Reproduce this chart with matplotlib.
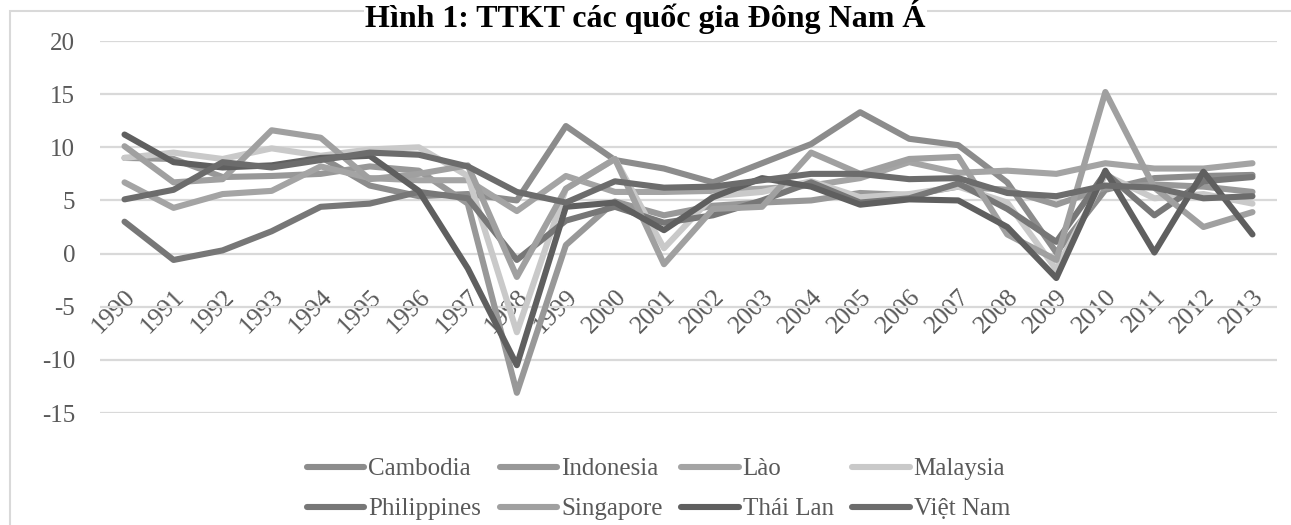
import numpy as np
import matplotlib
matplotlib.use('Agg')
import matplotlib.pyplot as plt
from matplotlib.lines import Line2D
from matplotlib.patches import Rectangle

plt.rcParams['font.family'] = ['Liberation Serif', 'DejaVu Serif']
plt.rcParams['axes.unicode_minus'] = False

years = [str(y) for y in range(1990, 2014)]
nan = np.nan

# tăng trưởng GDP (%)
cambodia = [nan, nan, nan, nan, 9.1, 6.4, 5.4, 5.6, 5.0, 12.0, 8.8, 8.0,
            6.7, 8.5, 10.3, 13.3, 10.8, 10.2, 6.7, 0.1, 6.0, 7.1, 7.3, 7.4]
indonesia = [9.0, 8.9, 7.2, 7.3, 7.5, 8.2, 7.8, 4.7, -13.1, 0.8, 4.9, 3.6,
             4.5, 4.8, 5.0, 5.7, 5.5, 6.3, 6.0, 4.6, 6.2, 6.5, 6.3, 5.8]
lao = [6.7, 4.3, 5.6, 5.9, 8.2, 7.1, 6.9, 6.9, 4.0, 7.3, 5.8, 5.8,
       5.9, 6.1, 6.4, 7.1, 8.6, 7.6, 7.8, 7.5, 8.5, 8.0, 8.0, 8.5]
malaysia = [9.0, 9.5, 8.9, 9.9, 9.2, 9.8, 10.0, 7.3, -7.4, 6.1, 8.9, 0.5,
            5.4, 5.8, 6.8, 5.3, 5.6, 6.3, 4.8, -1.5, 7.4, 5.2, 5.6, 4.7]
philippines = [3.0, -0.6, 0.3, 2.1, 4.4, 4.7, 5.8, 5.2, -0.6, 3.1, 4.4, 2.9,
               3.6, 5.0, 6.7, 4.8, 5.2, 6.6, 4.2, 1.1, 7.6, 3.6, 6.8, 7.2]
singapore = [10.1, 6.7, 7.0, 11.6, 10.9, 7.0, 7.5, 8.3, -2.2, 6.1, 8.9, -1.0,
             4.2, 4.4, 9.5, 7.5, 8.9, 9.1, 1.8, -0.6, 15.2, 6.2, 2.5, 3.9]
thailand = [11.2, 8.6, 8.1, 8.3, 9.0, 9.2, 5.9, -1.4, -10.5, 4.4, 4.8, 2.2,
            5.3, 7.1, 6.3, 4.6, 5.1, 5.0, 2.5, -2.3, 7.8, 0.1, 7.7, 1.8]
vietnam = [5.1, 6.0, 8.6, 8.1, 8.8, 9.5, 9.3, 8.2, 5.8, 4.8, 6.8, 6.2,
           6.3, 6.9, 7.5, 7.5, 7.0, 7.1, 5.7, 5.4, 6.4, 6.2, 5.2, 5.4]

names = ['Cambodia', 'Indonesia', 'Lào', 'Malaysia',
         'Philippines', 'Singapore', 'Thái Lan', 'Việt Nam']
series = [cambodia, indonesia, lao, malaysia, philippines, singapore, thailand, vietnam]
colors = ['#8c8c8c', '#989898', '#a4a4a4', '#c9c9c9',
          '#777777', '#a0a0a0', '#5f5f5f', '#6c6c6c']

fig = plt.figure(figsize=(12.91, 5.25), dpi=100)
ax = fig.add_axes([100/1291, 1 - 413/525, 1177/1291, 372/525])

x = np.arange(len(years))
for vals, c in zip(series, colors):
    ax.plot(x, vals, color=c, lw=4.4, solid_capstyle='round', solid_joinstyle='round', zorder=3)

ax.set_xlim(-0.5, len(years) - 0.5)
ax.set_ylim(-15, 20)
ax.set_yticks(range(-15, 21, 5))
ax.yaxis.grid(True, color='#d9d9d9', lw=1.6, zorder=0)
ax.set_axisbelow(True)
for s in ['top', 'right', 'left']:
    ax.spines[s].set_visible(False)
ax.spines['bottom'].set_position(('data', 0))
ax.spines['bottom'].set_visible(False)

ax.set_xticks(x)
ax.set_xticklabels(years, rotation=45, ha='right', va='top', rotation_mode='anchor')
ax.tick_params(axis='x', length=0, pad=23, labelsize=18.5, labelcolor='#595959')
ax.tick_params(axis='y', length=0, pad=18, labelsize=18, labelcolor='#595959')

# khung viền
fig.patches.append(Rectangle((10/1291, -0.2), 1.2, (525 - 11)/525 + 0.2,
                             transform=fig.transFigure, fill=False,
                             edgecolor='#d9d9d9', lw=1.5))

fig.text(0.5, 1 - 27/525, 'Hình 1: TTKT các quốc gia Đông Nam Á',
         ha='center', va='baseline', fontsize=23, fontweight='bold', color='black',
         bbox=dict(facecolor='white', edgecolor='none', pad=1))

# chú thích: Excel xếp theo hàng, matplotlib theo cột -> đổi thứ tự
order = [0, 4, 1, 5, 2, 6, 3, 7]
handles = [Line2D([], [], color=colors[i], lw=4.4, solid_capstyle='round') for i in order]
fig.legend(handles, [names[i] for i in order], ncol=4, loc='center',
           bbox_to_anchor=(0.51, 1 - 489/525),
           frameon=False, fontsize=18, handlelength=2.3, handletextpad=0.15,
           columnspacing=0.75, labelspacing=0.7, labelcolor='#595959')

fig.savefig('out.png', dpi=100)
